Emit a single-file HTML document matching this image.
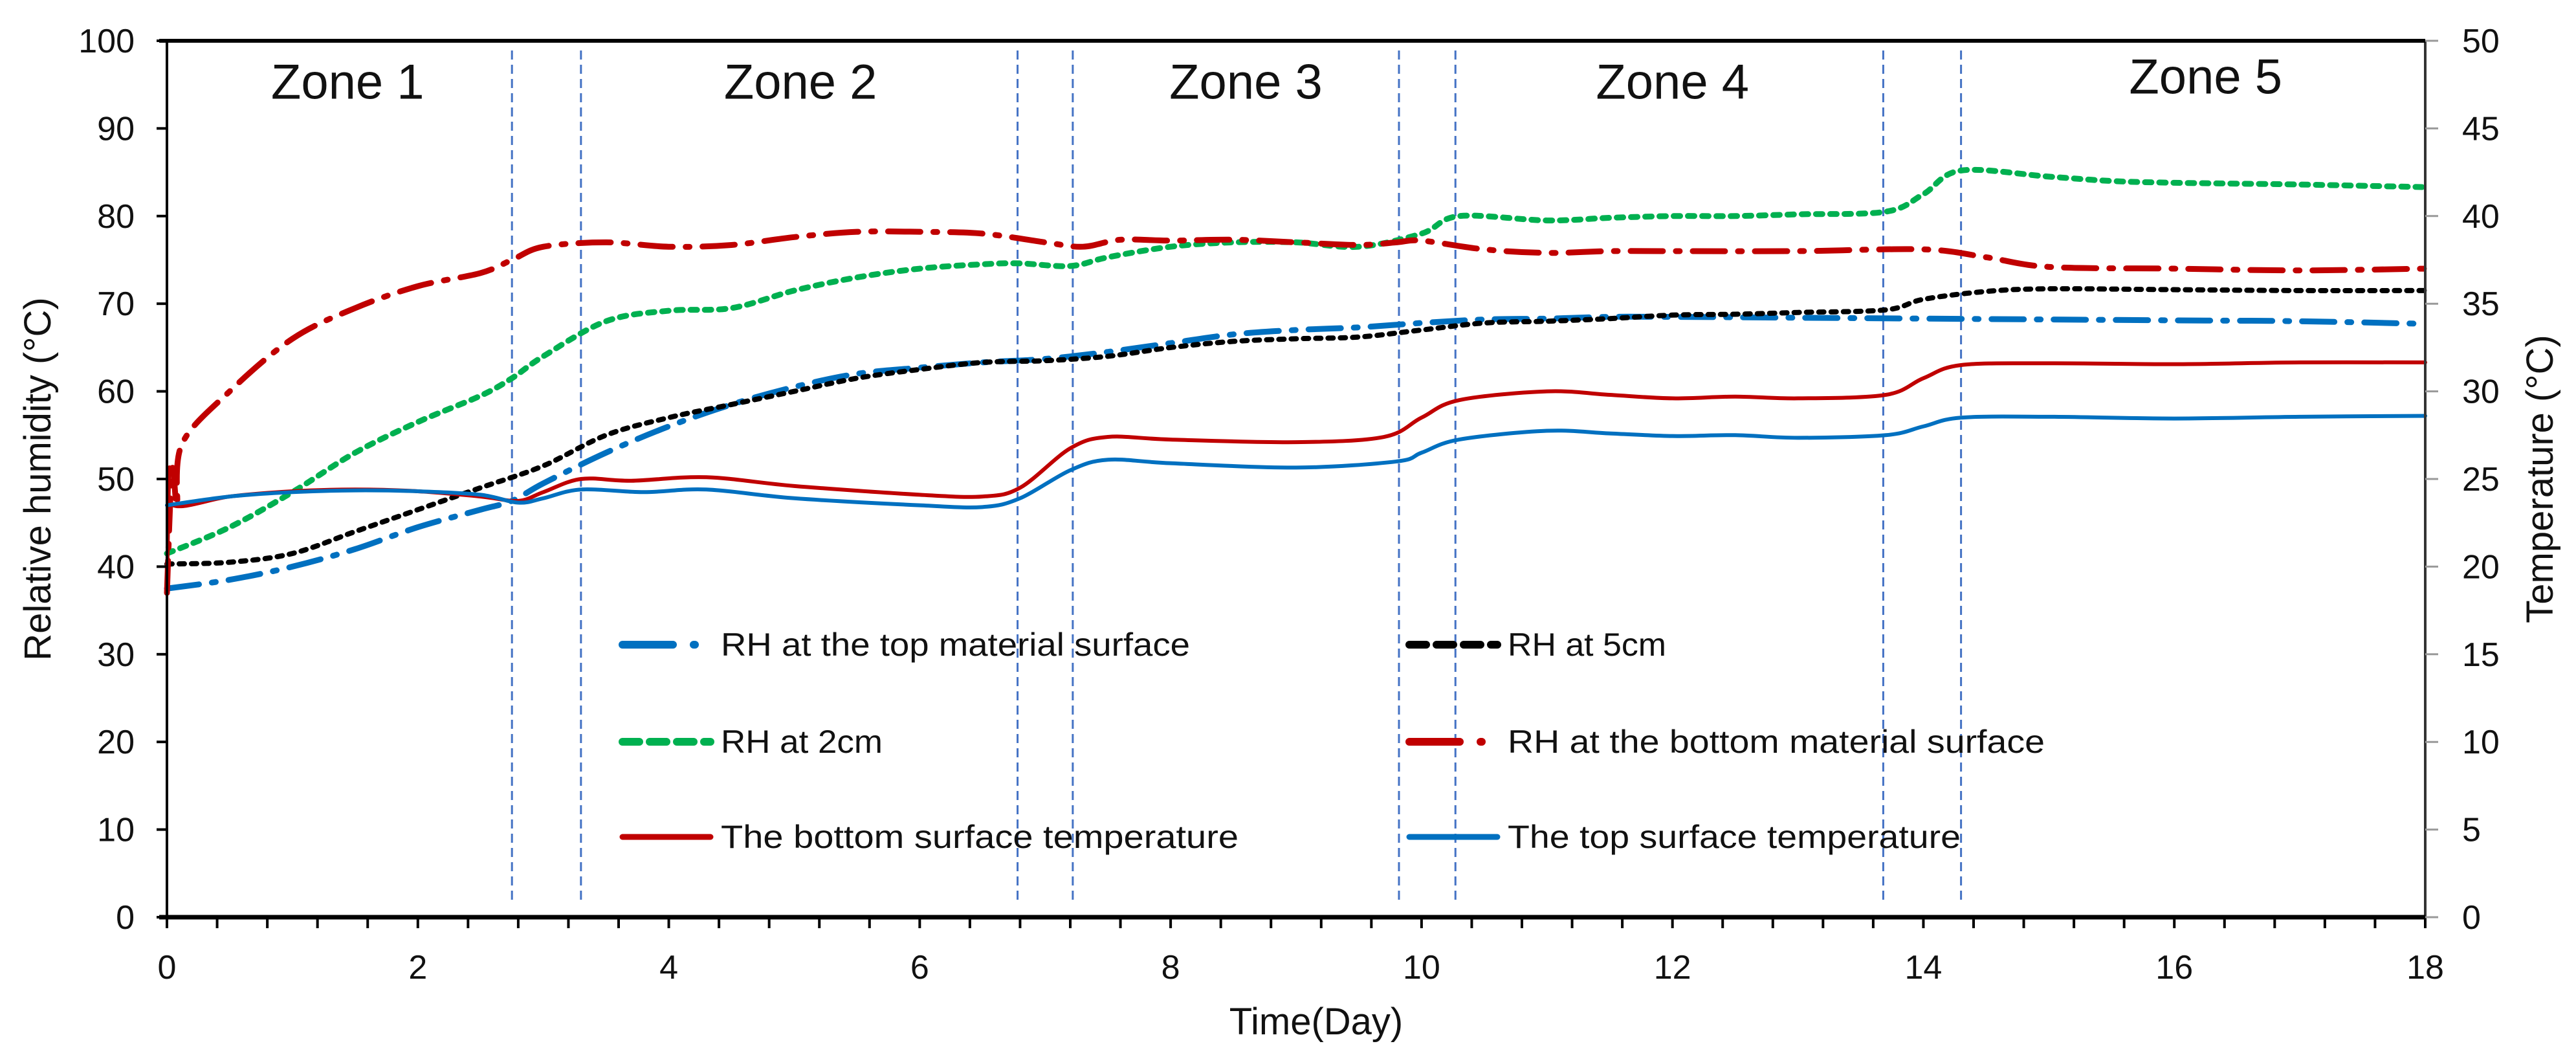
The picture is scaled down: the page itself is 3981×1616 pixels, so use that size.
<!DOCTYPE html>
<html><head><meta charset="utf-8"><style>html,body{margin:0;padding:0;background:#fff}svg{display:block}text{font-family:"Liberation Sans",sans-serif;fill:#111}</style></head>
<body>
<svg id="chart" width="3981" height="1616" viewBox="0 0 3981 1616" xmlns="http://www.w3.org/2000/svg">
<g id="grid"></g>
<g id="series"></g>
<g id="axes"></g>
<g id="legend"></g>
</svg>
<script>
const xTicks=[0,2,4,6,8,10,12,14,16,18];
const yLeftTicks=[0,10,20,30,40,50,60,70,80,90,100];
const yRightTicks=[0,5,10,15,20,25,30,35,40,45,50];
const zoneDividers=[2.75,3.3,6.78,7.22,9.82,10.27,13.68,14.3];
const zoneNames=["Zone 1","Zone 2","Zone 3","Zone 4","Zone 5"];
const zoneCenters=[1.44,5.05,8.6,12.0,16.25];
const zoneY=[95,95,95,95,95.6];

const dayRHtop=[0,0.5,1,1.5,2,2.5,2.75,3,3.5,4,4.5,5,5.5,6,6.5,7,7.5,8,8.5,9,9.5,10,10.5,11,11.5,12,13,14,15,16,17,18];
const rhTop=[37.5,38.5,40,42,44.5,46.5,47.5,49.5,53,56,58.5,60.5,62,62.7,63.3,63.7,64.5,65.5,66.5,67,67.3,67.8,68.2,68.3,68.5,68.5,68.4,68.3,68.2,68.1,68,67.7];
const day5cm=[0,0.5,1,1.5,2,2.5,3,3.5,4,4.5,5,5.5,6,6.5,7,7.5,8,8.5,9,9.5,10,10.5,11,11.5,12,12.5,13,13.7,14,14.5,15,16,17,18];
const rh5cm=[40.3,40.5,41.5,44,46.5,49,51.5,55,57,58.5,60,61.5,62.5,63.3,63.5,64,65,65.7,66,66.2,67,67.8,68,68.3,68.7,68.8,69,69.3,70.5,71.4,71.7,71.6,71.5,71.5];
const day2cm=[0,0.5,1,1.5,2,2.5,2.75,3,3.5,4,4.5,5,5.5,6,6.5,6.8,7.2,7.5,8,8.5,9,9.5,10,10.3,11,11.5,12,12.5,13,13.7,14,14.3,15,15.5,16,17,18];
const rh2cm=[41.5,44.5,48.5,53,56.5,59.5,61.5,64,68,69.2,69.5,71.5,73,74,74.5,74.6,74.3,75.3,76.5,77,77,76.5,78,80,79.5,79.8,80,80,80.2,80.5,82.5,85.2,84.5,84,83.8,83.6,83.3];
const dayRHbot=[0,0.04,0.08,0.12,0.5,1,1.5,2,2.5,2.75,3,3.5,4,4.5,5,5.5,6,6.5,7,7.3,7.6,8,8.5,9,9.5,9.8,10,10.5,11,11.5,12,13,14,14.5,15,16,17,18];
const rhBot=[37,51,47,54,60,66,69.5,72,73.5,75,76.5,77,76.5,76.7,77.6,78.2,78.2,78,77,76.5,77.3,77.2,77.3,77,76.7,77,77.2,76.2,75.8,76,76,76,76.2,75.3,74.2,74,73.8,74];
const dayTbot=[0,0.02,0.05,0.5,1,1.5,2,2.5,2.8,3,3.3,3.7,4.3,5,6,6.5,6.8,7.2,7.5,8,9,9.7,10,10.3,11,11.5,12,12.5,13,13.7,14,14.3,15,16,17,18];
const tBot=[18.5,25.5,23.5,24,24.3,24.4,24.3,24,23.75,24.25,25,24.9,25.1,24.6,24.1,24,24.5,26.75,27.4,27.25,27.1,27.4,28.5,29.5,30,29.8,29.6,29.7,29.6,29.8,30.75,31.5,31.6,31.55,31.65,31.65];
const dayTtop=[0,0.5,1,1.5,2,2.5,2.8,3,3.3,3.8,4.3,5,6,6.5,6.8,7.2,7.5,8,9,9.8,10,10.3,11,11.5,12,12.5,13,13.7,14,14.3,15,16,17,18];
const tTop=[23.5,24,24.25,24.35,24.3,24.1,23.65,23.9,24.4,24.25,24.4,23.9,23.5,23.4,23.9,25.5,26.1,25.9,25.65,26,26.5,27.25,27.75,27.6,27.45,27.5,27.35,27.5,28,28.5,28.55,28.45,28.55,28.6];

const X0=258,X1=3748,Y0=1417,Y1=63;
const xs=d=>X0+(d/18)*(X1-X0);
const yl=v=>Y0-(v/100)*(Y0-Y1);
const yr=v=>Y0-(v/50)*(Y0-Y1);
const NS="http://www.w3.org/2000/svg";
function mk(tag,parent){const e=document.createElementNS(NS,tag);parent.appendChild(e);return e;}
function smooth(pts){let d="M"+pts[0][0]+","+pts[0][1];for(let i=0;i<pts.length-1;i++){const p0=pts[Math.max(0,i-1)],p1=pts[i],p2=pts[i+1],p3=pts[Math.min(pts.length-1,i+2)];const c1x=p1[0]+(p2[0]-p0[0])/6,c1y=p1[1]+(p2[1]-p0[1])/6,c2x=p2[0]-(p3[0]-p1[0])/6,c2y=p2[1]-(p3[1]-p1[1])/6;d+=` C${c1x},${c1y} ${c2x},${c2y} ${p2[0]},${p2[1]}`;}return d;}

const grid=document.getElementById('grid'),ser=document.getElementById('series'),ax=document.getElementById('axes'),lg=document.getElementById('legend');
zoneDividers.forEach((d,i)=>{const l=mk('line',grid);


l.setAttribute('x1',xs(d));l.setAttribute('x2',xs(d));l.setAttribute('y1',78);l.setAttribute('y2',1393);l.setAttribute('stroke','#4472c4');l.setAttribute('stroke-width',3);l.setAttribute('stroke-dasharray','14 8');});
zoneNames.forEach((n,i)=>{const t=mk('text',grid);


t.setAttribute('x',xs(zoneCenters[i]));t.setAttribute('y',yl(zoneY[i])+22);t.setAttribute('text-anchor','middle');t.setAttribute('font-size',76);t.textContent=n;});

const seriesDefs=[
 {name:'rh-top-surface-line',d:dayRHtop,v:rhTop,y:yl,c:'#0070c0',w:9,dash:'50 20 6 20'},
 {name:'rh-5cm-line',d:day5cm,v:rh5cm,y:yl,c:'#000',w:8,dash:'8 11'},
 {name:'rh-2cm-line',d:day2cm,v:rh2cm,y:yl,c:'#00b050',w:9,dash:'10 12'},
 {name:'rh-bottom-surface-line',d:dayRHbot,v:rhBot,y:yl,c:'#c00000',w:9,dash:'50 20 6 20'},
 {name:'bottom-temperature-line',d:dayTbot,v:tBot,y:yr,c:'#c00000',w:6,dash:null},
 {name:'top-temperature-line',d:dayTtop,v:tTop,y:yr,c:'#0070c0',w:6,dash:null}];
seriesDefs.forEach(s=>{const p=mk('path',ser);


p.setAttribute('d',smooth(s.d.map((d,i)=>[xs(d),s.y(s.v[i])])));p.setAttribute('fill','none');p.setAttribute('stroke',s.c);p.setAttribute('stroke-width',s.w);if(s.dash)p.setAttribute('stroke-dasharray',s.dash);p.setAttribute('stroke-linecap','round');});

function line(x1,y1,x2,y2,c,w,name){const l=mk('line',ax);


l.setAttribute('x1',x1);l.setAttribute('y1',y1);l.setAttribute('x2',x2);l.setAttribute('y2',y2);l.setAttribute('stroke',c);l.setAttribute('stroke-width',w);}
line(X0,Y1,X0,Y0,'#000',4,'left-axis-line');
line(X1,Y1,X1,Y0+16,'#333',4,'right-axis-line');
line(X0-12,Y1,X1,Y1,'#000',6,'top-border');
line(X0-12,Y0,X1,Y0,'#000',7,'x-axis-line');
for(let d=0;d<=18.001;d+=0.4){line(xs(d),Y0,xs(d),Y0+17,'#000',4,'x-tick');}
line(xs(18),Y0,xs(18),Y0+17,'#000',4,'x-tick');
xTicks.forEach(d=>{const t=mk('text',ax);


t.setAttribute('x',xs(d));t.setAttribute('y',1512);t.setAttribute('text-anchor','middle');t.setAttribute('font-size',52);t.textContent=d;});
yLeftTicks.forEach(v=>{line(X0-16,yl(v),X0,yl(v),'#000',4,'y-left-tick');const t=mk('text',ax);


t.setAttribute('x',X0-50);t.setAttribute('y',yl(v)+18);t.setAttribute('text-anchor','end');t.setAttribute('font-size',52);t.textContent=v;});
yRightTicks.forEach(v=>{line(X1,yr(v),X1+20,yr(v),'#999',3,'y-right-tick');const t=mk('text',ax);


t.setAttribute('x',3805);t.setAttribute('y',yr(v)+18);t.setAttribute('font-size',52);t.textContent=v;});
let t=mk('text',ax);


t.setAttribute('x',2034);t.setAttribute('y',1598);t.setAttribute('text-anchor','middle');t.setAttribute('font-size',58);t.textContent='Time(Day)';
t=mk('text',ax);


t.setAttribute('transform','translate(78,740) rotate(-90)');t.setAttribute('text-anchor','middle');t.setAttribute('font-size',58);t.textContent='Relative humidity (°C)';
t=mk('text',ax);


t.setAttribute('transform','translate(3945,740) rotate(-90)');t.setAttribute('text-anchor','middle');t.setAttribute('font-size',58);t.textContent='Temperature  (°C)';

const legendLabels=['RH at the top material surface','RH at 5cm','RH at 2cm','RH at the bottom material surface','The bottom surface temperature','The top surface temperature'];
const legendLens=[725,245,250,830,800,700];
const legendX=[958,2174,958,2174,958,2174];
const legendY=[996,996,1146,1146,1293,1293];
seriesDefs.forEach((s,i)=>{const g=mk('g',lg);


const l=mk('line',g);l.setAttribute('x1',legendX[i]+4);l.setAttribute('x2',legendX[i]+140);l.setAttribute('y1',legendY[i]);l.setAttribute('y2',legendY[i]);l.setAttribute('stroke',s.c);l.setAttribute('stroke-width',s.dash?12:9);l.setAttribute('stroke-linecap','round');
if(s.dash)l.setAttribute('stroke-dasharray',(s.dash==='8 11'||s.dash==='10 12')?'26 16':'78 32 2 40');
const tx=mk('text',g);tx.setAttribute('x',legendX[i]+156);tx.setAttribute('y',legendY[i]+17);tx.setAttribute('font-size',50);tx.setAttribute('textLength',legendLens[i]);tx.setAttribute('lengthAdjust','spacingAndGlyphs');tx.textContent=legendLabels[i];});
</script>
</body></html>
